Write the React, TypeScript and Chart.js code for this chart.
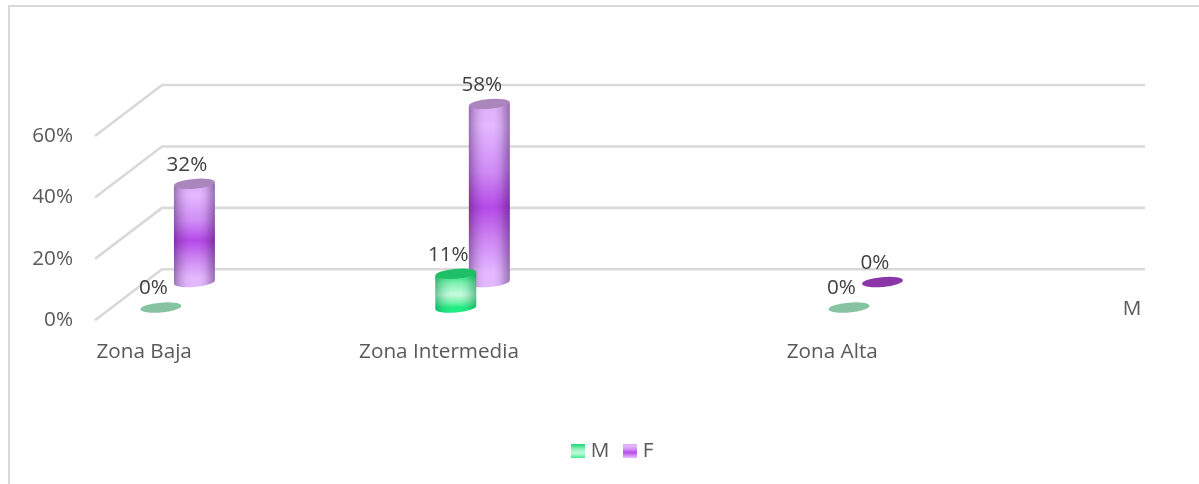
import React, { useEffect, useRef } from "react";
import { Chart, registerables } from "chart.js";

Chart.register(...registerables);

// ---- data ----
const CATEGORIES = ["Zona Baja", "Zona Intermedia", "Zona Alta"];
const SERIES_NAMES = ["M", "F"];
const M_VALUES = [0, 11, 0];
const F_VALUES = [32, 58, 0];
const Y_TICKS = [0, 20, 40, 60];

// ---- layout (category spacing along the floor of the 3D box, in category units) ----
const CATEGORY_SLOTS = [0.15, 1.05, 2.25];
const DEPTH = { x: 67, y: -51 };
const SERIES_DEPTH = [0.25, 0.75];
const R = 20.5;
const RY = 4.9;
const TILT = (-5 * Math.PI) / 180;
const SKEW = 2;
const FONT = "'Open Sans', sans-serif";
const FONT_SIZE = 20.7;

const EDGE_RAMP = [[0, 1], [0.06, 0.72], [0.16, 0.38], [0.28, 0.12], [0.4, 0], [0.62, 0], [0.76, 0.2], [0.9, 0.66], [1, 1]];

const STYLE = [
  {
    stops: [[0, "#1fd877"], [0.3, "#86f2b5"], [0.62, "#c6fbde"], [0.85, "#74f3ad"], [1, "#22ec84"]],
    cap: "#1fbf68",
    zeroCap: "#86c3a2",
    bottom: "#22ec84",
    edge: [10, 130, 70, 0.5],
  },
  {
    stops: [[0, "#dcaef8"], [0.12, "#e3b8ff"], [0.38, "#cf8cf5"], [0.58, "#b549e8"], [0.76, "#cd86f2"], [0.95, "#e3b8ff"], [1, "#e3b8ff"]],
    cap: "#ab86bd",
    zeroCap: "#8a35a8",
    bottom: "#e3b8ff",
    edge: [50, 10, 70, 0.42],
  },
];

function offset(i: number) {
  return { dx: DEPTH.x * SERIES_DEPTH[i], dy: DEPTH.y * SERIES_DEPTH[i] };
}

function barGradient(ctx: CanvasRenderingContext2D, i: number, top: number, base: number) {
  const g = ctx.createLinearGradient(0, top, 0, base);
  STYLE[i].stops.forEach(([p, c]) => g.addColorStop(p as number, c as string));
  return g;
}

function swatch(i: number) {
  const c = document.createElement("canvas");
  c.width = 14;
  c.height = 14;
  const x = c.getContext("2d")!;
  x.fillStyle = barGradient(x, i, 0, 14);
  x.fillRect(0, 0, 14, 14);
  return c;
}

function outline(ctx: CanvasRenderingContext2D, x: number, top: number, base: number) {
  ctx.moveTo(x - R, top + SKEW);
  ctx.lineTo(x + R, top - SKEW);
  ctx.lineTo(x + R, base - SKEW);
  ctx.ellipse(x, base, R, RY, TILT, 0, Math.PI);
  ctx.closePath();
}

const cylinderPlugin = {
  id: "cylinder3d",
  beforeDraw(chart: any) {
    const { ctx, width, height } = chart;
    ctx.save();
    ctx.strokeStyle = "#d9d9d9";
    ctx.lineWidth = 2;
    ctx.beginPath();
    ctx.moveTo(9, height);
    ctx.lineTo(9, 6);
    ctx.lineTo(width, 6);
    ctx.stroke();
    ctx.restore();
  },
  afterLayout(chart: any) {
    const lg = chart.legend;
    const w = lg.right - lg.left;
    lg.left = 557.5;
    lg.right = lg.left + w;
    const h = lg.bottom - lg.top;
    lg.top = 423;
    lg.bottom = lg.top + h;
  },
  beforeDatasetsDraw(chart: any) {
    const { ctx, scales, chartArea } = chart;
    ctx.save();
    ctx.strokeStyle = "#d9d9d9";
    ctx.lineWidth = 2.6;
    ctx.lineJoin = "round";
    scales.y.ticks.forEach((t: any) => {
      const y = scales.y.getPixelForValue(t.value);
      ctx.beginPath();
      ctx.moveTo(chartArea.left, y);
      ctx.lineTo(chartArea.left + DEPTH.x, y + DEPTH.y);
      ctx.lineTo(chartArea.right + DEPTH.x, y + DEPTH.y);
      ctx.stroke();
    });
    ctx.restore();
  },
  beforeDatasetDraw(chart: any, args: any) {
    const { ctx } = chart;
    const i = args.index;
    const { dx, dy } = offset(i);
    const meta = args.meta;
    ctx.save();
    ctx.translate(dx, dy);
    // bottom caps, then restrict the library's own bar bodies to the skewed outline
    ctx.fillStyle = STYLE[i].bottom;
    meta.data.forEach((el: any) => {
      if (Math.abs(el.base - el.y) < 0.5) return;
      ctx.beginPath();
      ctx.ellipse(el.x, el.base, R, RY, TILT, 0, Math.PI * 2);
      ctx.fill();
    });
    ctx.save();
    ctx.beginPath();
    meta.data.forEach((el: any) => {
      if (Math.abs(el.base - el.y) >= 0.5) outline(ctx, el.x, el.y, el.base);
    });
    ctx.clip();
  },
  afterDatasetDraw(chart: any, args: any) {
    const { ctx } = chart;
    const i = args.index;
    ctx.restore();
    args.meta.data.forEach((el: any) => {
      const zero = Math.abs(el.base - el.y) < 0.5;
      if (!zero) {
        const shade = ctx.createLinearGradient(el.x - R, 0, el.x + R, 0);
        const [r, g, b, a] = STYLE[i].edge as number[];
        EDGE_RAMP.forEach(([p, k]) => shade.addColorStop(p, `rgba(${r},${g},${b},${a * k})`));
        ctx.fillStyle = shade;
        ctx.beginPath();
        outline(ctx, el.x, el.y, el.base);
        ctx.fill();
      }
      ctx.fillStyle = zero ? STYLE[i].zeroCap : STYLE[i].cap;
      ctx.beginPath();
      ctx.ellipse(el.x, el.y, R, RY, TILT, 0, Math.PI * 2);
      ctx.fill();
    });
    ctx.restore();
  },
  afterDatasetsDraw(chart: any) {
    const { ctx, chartArea } = chart;
    ctx.save();
    ctx.font = `${FONT_SIZE}px ${FONT}`;
    ctx.fillStyle = "#404040";
    ctx.textAlign = "center";
    ctx.textBaseline = "middle";
    chart.data.datasets.forEach((ds: any, i: number) => {
      const { dx, dy } = offset(i);
      chart.getDatasetMeta(i).data.forEach((el: any, k: number) => {
        ctx.fillText(`${ds.data[k].y}%`, el.x + dx - 7.5, el.y + dy - 19);
      });
    });
    // series (depth) axis label
    ctx.fillStyle = "#595959";
    ctx.fillText(SERIES_NAMES[0], chartArea.right + 54, chartArea.bottom - 11);
    ctx.restore();
  },
};

export default function App() {
  const ref = useRef<HTMLCanvasElement>(null);
  useEffect(() => {
    const makeData = (vals: number[]) => vals.map((y, k) => ({ x: CATEGORY_SLOTS[k], y }));
    const fill = (i: number) => (c: any) => {
      const raw = c.raw;
      const sc = c.chart.scales.y;
      if (!raw || !sc) return STYLE[i].bottom;
      return barGradient(c.chart.ctx, i, sc.getPixelForValue(raw.y), sc.getPixelForValue(0));
    };
    const chart = new Chart(ref.current!, {
      type: "bar",
      data: {
        datasets: [
          { label: SERIES_NAMES[0], data: makeData(M_VALUES), backgroundColor: fill(0) },
          { label: SERIES_NAMES[1], data: makeData(F_VALUES), backgroundColor: fill(1) },
        ],
      } as any,
      plugins: [cylinderPlugin],
      options: {
        animation: false,
        responsive: false,
        clip: false,
        datasets: { bar: { grouped: false, barThickness: 41, clip: false } },
        layout: { padding: { top: 136, right: 121, left: 0, bottom: 0 } },
        plugins: {
          tooltip: { enabled: false },
          legend: {
            position: "bottom",
            align: "start",
            labels: {
              usePointStyle: true,
              pointStyleWidth: 5,
              padding: 18,
              color: "#595959",
              font: { family: FONT, size: FONT_SIZE },
              generateLabels: () =>
                SERIES_NAMES.map((text, i) => ({
                  text,
                  datasetIndex: i,
                  pointStyle: swatch(i),
                  fontColor: "#595959",
                })),
            },
          },
        },
        scales: {
          x: {
            type: "linear",
            offset: false,
            min: 0,
            max: 3,
            grid: { display: false, offset: false },
            border: { display: false },
            afterBuildTicks: (s: any) => {
              s.ticks = CATEGORY_SLOTS.map((value) => ({ value }));
            },
            afterFit: (s: any) => {
              s.height = 115;
            },
            ticks: {
              autoSkip: false,
              maxRotation: 0,
              padding: 11,
              color: "#595959",
              font: { family: FONT, size: FONT_SIZE },
              callback: (_v: any, idx: number) => CATEGORIES[idx],
            },
          },
          y: {
            type: "linear",
            min: 0,
            max: 60,
            grid: { display: false },
            border: { display: false },
            afterBuildTicks: (s: any) => {
              s.ticks = Y_TICKS.map((value) => ({ value }));
            },
            afterFit: (s: any) => {
              s.width = 95;
            },
            ticks: {
              padding: 14,
              color: "#595959",
              font: { family: FONT, size: FONT_SIZE },
              callback: (v: any) => `${v}%`,
            },
          },
        },
      } as any,
    });
    return () => chart.destroy();
  }, []);
  return (
    <div style={{ position: "fixed", left: 0, top: 0, width: 1199, height: 484, overflow: "hidden", background: "#fff" }}>
      <canvas ref={ref} width={1199} height={484} style={{ display: "block" }} />
    </div>
  );
}
